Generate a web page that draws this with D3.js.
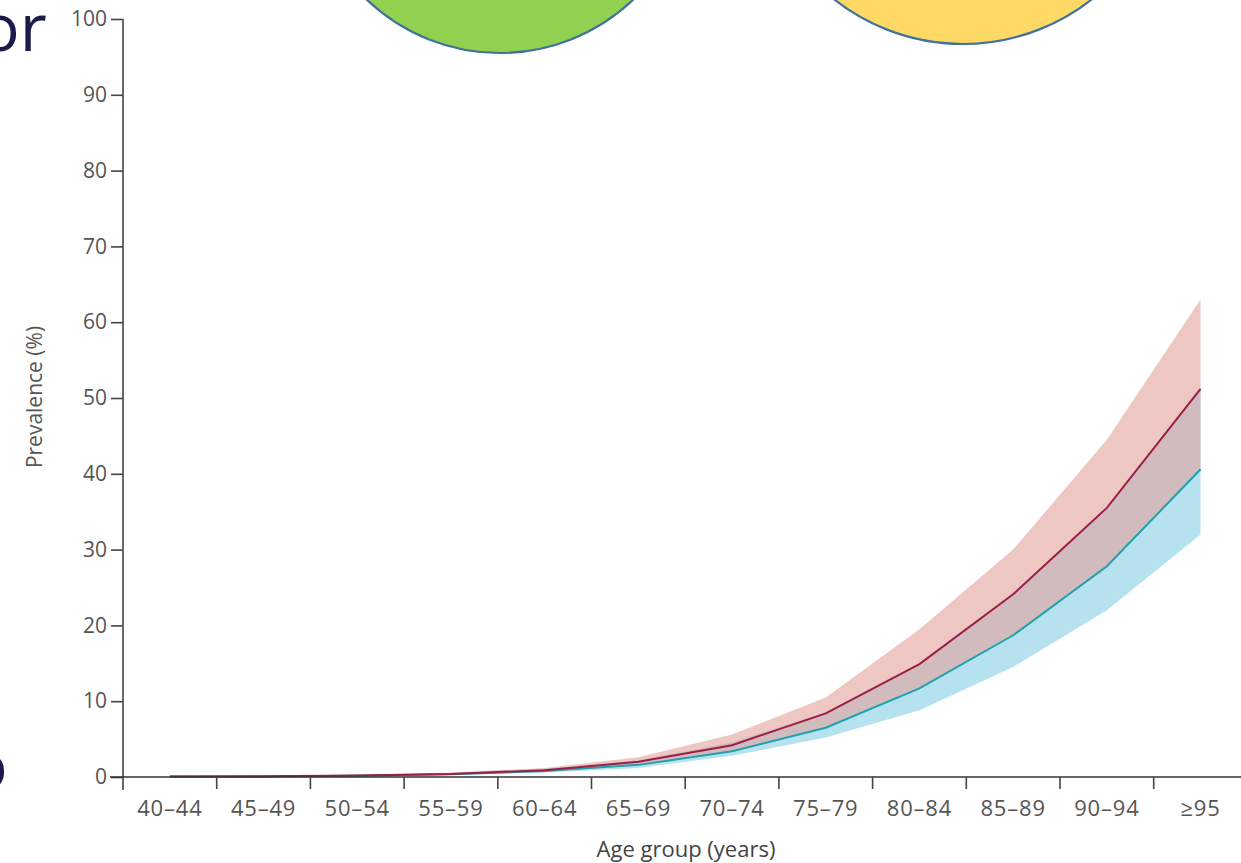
<!DOCTYPE html>
<html>
<head>
<meta charset="utf-8">
<script src="https://cdn.jsdelivr.net/npm/d3@7"></script>
<style>
  html, body { margin: 0; padding: 0; background: #ffffff; }
  svg { display: block; }
</style>
</head>
<body>
<svg id="chart" width="1241" height="863"></svg>
<script>
// Age groups on the x axis
const ageGroups = ["40–44", "45–49", "50–54", "55–59", "60–64", "65–69",
                   "70–74", "75–79", "80–84", "85–89", "90–94", "≥95"];

// First series (dark red line, pink uncertainty band)
const meanA = [0.05, 0.1, 0.2, 0.4, 0.9, 2.0, 4.2, 8.4, 14.9, 24.1, 35.5, 51.2];
const lowA  = [0.03, 0.06, 0.12, 0.3, 0.7, 1.5, 3.3, 6.4, 11.6, 18.6, 27.6, 40.5];
const highA = [0.08, 0.15, 0.3, 0.6, 1.2, 2.6, 5.6, 10.5, 19.5, 30.0, 44.5, 63.0];

// Second series (teal line, light blue uncertainty band)
const meanB = [0.05, 0.08, 0.15, 0.35, 0.8, 1.6, 3.4, 6.5, 11.7, 18.7, 27.8, 40.6];
const lowB  = [0.03, 0.05, 0.1, 0.25, 0.6, 1.2, 2.8, 5.2, 8.8, 14.5, 22.0, 32.0];
const highB = [0.08, 0.12, 0.25, 0.5, 1.1, 2.2, 4.6, 8.5, 15.0, 24.2, 35.6, 51.3];

// y-axis ticks
const yTicks = [0, 10, 20, 30, 40, 50, 60, 70, 80, 90, 100];

const svg = d3.select("#chart");
const W = 1241;

const x = d3.scaleBand().domain(ageGroups).range([123, 123 + 12 * 93.7]).padding(0);
const y = d3.scaleLinear().domain([0, 100]).range([777, 19]);
const cx = d => x(d) + x.bandwidth() / 2;

// Decorative slide shapes behind the chart
svg.append("circle").attr("cx", 500).attr("cy", -140).attr("r", 193)
  .attr("fill", "#92d050").attr("stroke", "#41719c").attr("stroke-width", 2.2);
svg.append("circle").attr("cx", 963).attr("cy", -164).attr("r", 208)
  .attr("fill", "#ffd966").attr("stroke", "#41719c").attr("stroke-width", 2.2);
svg.append("text").attr("x", -20).attr("y", 51)
  .attr("font-family", "Open Sans, sans-serif").attr("font-size", 66)
  .attr("fill", "#1b1a4a").text("or");
svg.append("text").attr("x", -32).attr("y", 789)
  .attr("font-family", "Open Sans, sans-serif").attr("font-size", 66)
  .attr("fill", "#1b1a4a").text("o");

const idx = ageGroups.map((g, i) => i);

// Uncertainty bands
const area = (lo, hi) => d3.area()
  .x(i => cx(ageGroups[i]))
  .y0(i => y(lo[i]))
  .y1(i => y(hi[i]));

svg.append("path").attr("d", area(lowB, highB)(idx))
  .attr("fill", "#a9dcec").attr("fill-opacity", 0.85);
svg.append("path").attr("d", area(lowA, highA)(idx))
  .attr("fill", "#e5a29a").attr("fill-opacity", 0.6);

// Mean lines
const line = vals => d3.line().x(i => cx(ageGroups[i])).y(i => y(vals[i]));
svg.append("path").attr("d", line(meanB)(idx))
  .attr("fill", "none").attr("stroke", "#1fa2b0").attr("stroke-width", 2);
svg.append("path").attr("d", line(meanA)(idx))
  .attr("fill", "none").attr("stroke", "#9c1d45").attr("stroke-width", 2);

// y axis
const yAxis = svg.append("g").attr("transform", "translate(123,0)")
  .call(d3.axisLeft(y).tickValues(yTicks).tickSize(12).tickSizeOuter(0).tickPadding(4));
yAxis.select(".domain").attr("d", `M0,${y(100)}V790`).attr("stroke", "#444").attr("stroke-width", 1.6);
yAxis.selectAll(".tick line").attr("stroke", "#444").attr("stroke-width", 1.6);
yAxis.selectAll(".tick text")
  .attr("font-family", "Open Sans, sans-serif").attr("font-size", 21)
  .attr("fill", "#555");

// x axis: labels centred in each band, ticks on the band boundaries
const xAxis = svg.append("g").attr("transform", `translate(0,${y(0)})`)
  .call(d3.axisBottom(x).tickSize(0).tickPadding(23));
xAxis.select(".domain").attr("d", `M110,0H${W}`).attr("stroke", "#333").attr("stroke-width", 1.6);
xAxis.selectAll(".tick text")
  .attr("font-family", "Open Sans, sans-serif").attr("font-size", 22)
  .attr("fill", "#555").attr("letter-spacing", 0.8);
xAxis.selectAll(".boundary").data(ageGroups.slice(1)).enter().append("line")
  .attr("class", "boundary")
  .attr("x1", d => x(d)).attr("x2", d => x(d))
  .attr("y1", 0).attr("y2", 12)
  .attr("stroke", "#444").attr("stroke-width", 1.6);

// Axis titles
svg.append("text").attr("x", 686).attr("y", 857).attr("text-anchor", "middle")
  .attr("font-family", "Open Sans, sans-serif").attr("font-size", 22)
  .attr("fill", "#444").text("Age group (years)");
svg.append("text").attr("transform", `translate(42,397) rotate(-90)`)
  .attr("text-anchor", "middle")
  .attr("font-family", "Open Sans, sans-serif").attr("font-size", 21)
  .attr("fill", "#555").text("Prevalence (%)");
</script>
</body>
</html>
